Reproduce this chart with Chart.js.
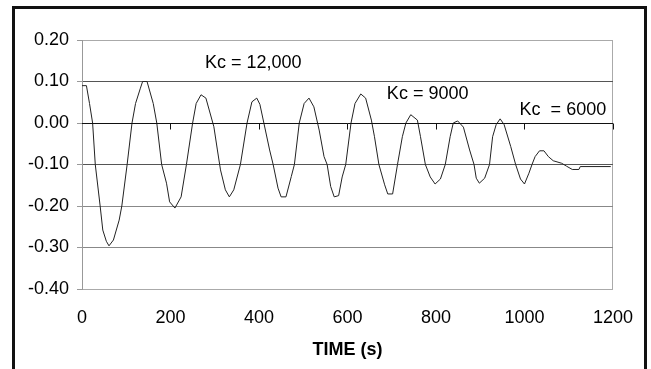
<!DOCTYPE html>
<html>
<head>
<meta charset="utf-8">
<script src="https://cdn.jsdelivr.net/npm/chart.js@4"></script>
<style>
  html, body { margin: 0; padding: 0; background: #fff; }
  #wrap { position: relative; width: 651px; height: 369px; overflow: hidden; }
  #frame { position: absolute; left: 12px; top: 6px; width: 635px; height: 400px; border: 3px solid #111; box-sizing: border-box; }
  canvas { position: absolute; left: 0; top: 0; }
</style>
</head>
<body>
<div id="wrap">
  <canvas id="chart" width="651" height="369"></canvas>
  <div id="frame"></div>
</div>
<script>
// time (s)
var times = [0, 10, 17, 24, 30, 41, 47, 55, 61, 71, 84, 90, 102, 113, 121, 132, 137, 147, 161, 169,
  180, 191, 198, 210, 224, 236, 250, 258, 269, 280, 298, 306, 313, 324, 333, 343, 358, 373, 384, 395,
  402, 411, 424, 432, 443, 450, 461, 473, 480, 491, 502, 513, 524, 536, 547, 554, 562, 570, 580, 588,
  596, 608, 617, 630, 641, 654, 661, 671, 684, 691, 702, 713, 724, 732, 743, 758, 765, 776, 787, 798,
  810, 821, 832, 839, 849, 862, 876, 886, 891, 898, 910, 921, 928, 936, 945, 954, 969, 980, 991, 1000,
  1010, 1017, 1024, 1034, 1044, 1054, 1065, 1084, 1095, 1108, 1123, 1126, 1195];
// response
var response = [0.09, 0.09, 0.047, 0.0, -0.10, -0.20, -0.258, -0.285, -0.296, -0.282, -0.234, -0.20, -0.10, 0.0, 0.047, 0.084, 0.10, 0.10, 0.047, 0.0,
  -0.10, -0.145, -0.19, -0.205, -0.178, -0.10, 0.0, 0.047, 0.068, 0.06, -0.009, -0.065, -0.113, -0.161, -0.178, -0.161, -0.10, 0.0, 0.051, 0.06,
  0.045, 0.0, -0.065, -0.10, -0.157, -0.178, -0.178, -0.129, -0.10, 0.0, 0.047, 0.06, 0.039, -0.017, -0.081, -0.10, -0.153, -0.178, -0.175, -0.13,
  -0.10, 0.0, 0.047, 0.07, 0.06, 0.007, -0.033, -0.10, -0.149, -0.171, -0.171, -0.10, -0.033, 0.0, 0.02, 0.007, -0.033, -0.10, -0.13, -0.147,
  -0.135, -0.10, -0.033, 0.0, 0.005, -0.01, -0.065, -0.10, -0.133, -0.145, -0.133, -0.10, -0.033, -0.004, 0.01, -0.004, -0.057, -0.10, -0.135, -0.147,
  -0.121, -0.10, -0.081, -0.067, -0.067, -0.081, -0.091, -0.097, -0.104, -0.112, -0.112, -0.105, -0.105];

var xTicks = [0, 200, 400, 600, 800, 1000, 1200];
var yTicks = [0.20, 0.10, 0.00, -0.10, -0.20, -0.30, -0.40];

var notes = ['Kc = 12,000', 'Kc = 9000', 'Kc  = 6000'];
var noteTimes = [278, 689, 989];
var noteValues = [0.145, 0.07, 0.031];

var points = times.map(function (t, i) { return { x: t, y: response[i] }; });

var FONT = 'Arial, "Liberation Sans", sans-serif';

var extras = {
  id: 'extras',
  afterDatasetsDraw: function (chart) {
    var ctx = chart.ctx;
    var xs = chart.scales.x, ys = chart.scales.y;
    var y0 = Math.round(ys.getPixelForValue(0)) + 0.5;
    ctx.save();
    // x axis crossing at zero
    ctx.strokeStyle = '#111';
    ctx.lineWidth = 1;
    ctx.beginPath();
    ctx.moveTo(xs.left, y0);
    ctx.lineTo(xs.right, y0);
    xTicks.forEach(function (t) {
      if (t === 0) return;
      var px = Math.round(xs.getPixelForValue(t)) + 0.5;
      ctx.moveTo(px, y0);
      ctx.lineTo(px, y0 + 6);
    });
    ctx.stroke();
    // labels
    ctx.fillStyle = '#000';
    ctx.font = '18px ' + FONT;
    ctx.textAlign = 'left';
    ctx.textBaseline = 'middle';
    notes.forEach(function (txt, i) {
      ctx.fillText(txt, xs.getPixelForValue(noteTimes[i]), ys.getPixelForValue(noteValues[i]));
    });
    ctx.restore();
  }
};

function gridColor(v) {
  if (Math.abs(v) < 1e-9) return 'rgba(0,0,0,0)';
  if (Math.abs(v - 0.2) < 1e-9 || Math.abs(v + 0.4) < 1e-9) return '#aaa';
  if (Math.abs(Math.abs(v) - 0.1) < 1e-9) return '#555';
  return '#888';
}

new Chart(document.getElementById('chart'), {
  type: 'scatter',
  data: {
    datasets: [{
      data: points,
      showLine: true,
      borderColor: '#222',
      borderWidth: 1,
      pointRadius: 0,
      tension: 0,
      fill: false
    }]
  },
  options: {
    responsive: false,
    animation: false,
    events: [],
    layout: { padding: { left: 0, right: 29, top: 40, bottom: 0 } },
    plugins: { legend: { display: false }, tooltip: { enabled: false } },
    scales: {
      x: {
        type: 'linear',
        min: 0,
        max: 1200,
        afterFit: function (s) { s.height = 80; },
        afterBuildTicks: function (s) { s.ticks = xTicks.map(function (v) { return { value: v }; }); },
        grid: {
          drawTicks: false,
          color: function (c) { return c.tick && c.tick.value === 1200 ? '#aaa' : 'rgba(0,0,0,0)'; }
        },
        border: { display: false },
        ticks: {
          padding: 18,
          color: '#000',
          font: { family: FONT, size: 18 },
          maxRotation: 0,
          callback: function (v) { return String(v); }
        },
        title: {
          display: true,
          text: 'TIME (s)',
          color: '#000',
          font: { family: FONT, size: 18, weight: 'bold' },
          padding: { top: 0, bottom: 8 }
        }
      },
      y: {
        min: -0.4,
        max: 0.2,
        afterFit: function (s) { s.width = 82; },
        afterBuildTicks: function (s) { s.ticks = yTicks.map(function (v) { return { value: v }; }); },
        grid: {
          tickLength: 5,
          color: function (c) { return c.tick ? gridColor(c.tick.value) : '#888'; },
          tickColor: '#999'
        },
        border: { display: true, color: '#999' },
        ticks: {
          padding: 8,
          color: '#000',
          font: { family: FONT, size: 18 },
          callback: function (v) { return Math.abs(v) < 1e-9 ? '0.00' : v.toFixed(2); }
        }
      }
    }
  },
  plugins: [extras]
});
</script>
</body>
</html>
